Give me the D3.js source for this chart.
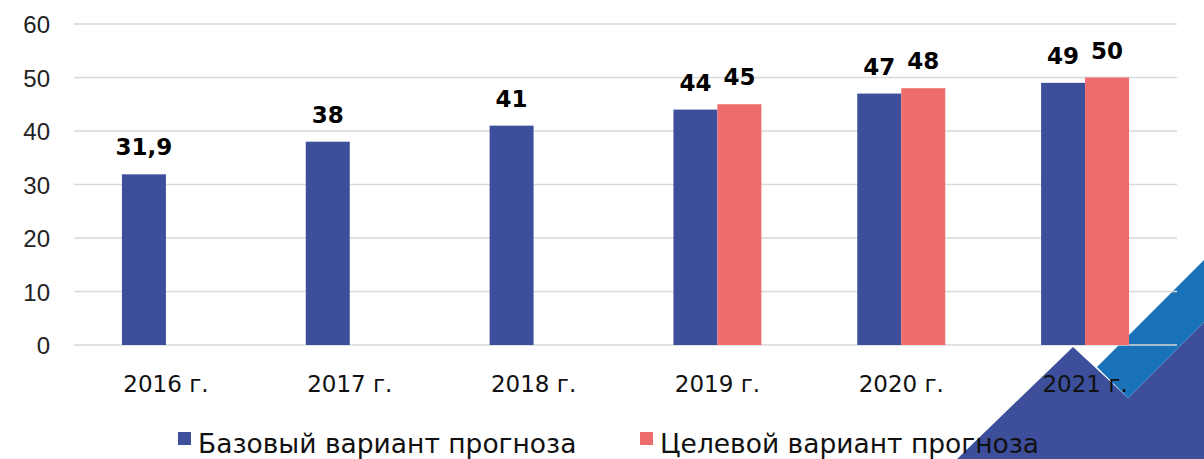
<!DOCTYPE html>
<html><head><meta charset="utf-8">
<script src="https://cdn.jsdelivr.net/npm/d3@7"></script>
<style>body{margin:0;background:#fff;}svg{display:block;}</style>
</head><body>
<svg id="c" width="1204" height="459"></svg>
<script>
const categories = ["2016 г.", "2017 г.", "2018 г.", "2019 г.", "2020 г.", "2021 г."];
const seriesNames = ["Базовый вариант прогноза", "Целевой вариант прогноза"];
const baseValues = [31.9, 38, 41, 44, 47, 49];
const targetValues = [null, null, null, 45, 48, 50];
const baseLabels = ["31,9", "38", "41", "44", "47", "49"];
const targetLabels = [null, null, null, "45", "48", "50"];
const yTicks = [0, 10, 20, 30, 40, 50, 60];
const colors = ["#3D4F9B", "#EE6C6C"];

const svg = d3.select("#c");
const W = 1204, H = 459;
const m = {left: 74, right: 27, top: 24, bottom: 114};
const font = "DejaVu Sans, sans-serif";

// background decoration
svg.append("polygon").attr("points", "957,459 1073,347 1128,398 1204,322 1204,459").attr("fill", "#3D4F9B");
svg.append("polygon").attr("points", "1097,367 1204,260 1204,322 1128,398").attr("fill", "#1A72B8");

const x = d3.scaleBand().domain(categories).range([m.left, W - m.right]).padding(0);
const y = d3.scaleLinear().domain([0, 60]).range([H - m.bottom, m.top]);
const inner = d3.scaleBand().domain([0, 1]).range([0, x.bandwidth()]).paddingOuter(1.09).paddingInner(0);

// gridlines
svg.append("g").selectAll("line").data(yTicks).join("line")
  .attr("x1", m.left).attr("x2", W - m.right)
  .attr("y1", d => y(d)).attr("y2", d => y(d))
  .attr("stroke", "#D9D9D9").attr("stroke-width", 1.5);

// y labels
const yAxis = d3.axisLeft(y).tickValues(yTicks).tickSize(0).tickPadding(0).tickFormat(d3.format("d"));
const ya = svg.append("g").attr("transform", `translate(${m.left - 24},0)`).call(yAxis);
ya.select(".domain").remove();
ya.selectAll("text").attr("font-family", "Liberation Sans, Arial, sans-serif").attr("font-size", 24).attr("fill", "#222").attr("dy", "0.36em");

// x labels
const xAxis = d3.axisBottom(x).tickSize(0).tickPadding(0);
const xa = svg.append("g").attr("transform", `translate(0,${y(0) + 47})`).call(xAxis);
xa.select(".domain").remove();
xa.selectAll("text").attr("font-family", font).attr("font-size", 23).attr("fill", "#111").attr("dy", 0);

const series = [[baseValues, baseLabels], [targetValues, targetLabels]];
series.forEach(([vals, labs], si) => {
  const g = svg.append("g");
  const data = categories.map((c, i) => ({c, v: vals[i], lab: labs[i]})).filter(d => d.v != null);
  g.selectAll("rect").data(data).join("rect")
    .attr("x", d => x(d.c) + inner(si))
    .attr("width", inner.bandwidth())
    .attr("y", d => y(d.v))
    .attr("height", d => y(0) - y(d.v))
    .attr("fill", colors[si]);
  g.selectAll("text").data(data).join("text")
    .attr("x", d => x(d.c) + inner(si) + inner.bandwidth() / 2)
    .attr("y", d => y(d.v) - 19)
    .attr("text-anchor", "middle")
    .attr("font-family", font).attr("font-weight", "bold").attr("font-size", 23)
    .attr("fill", "#000")
    .text(d => d.lab);
});

// legend
const legendX = [178, 640];
seriesNames.forEach((n, i) => {
  svg.append("rect").attr("x", legendX[i]).attr("y", 432).attr("width", 13).attr("height", 13).attr("fill", colors[i]);
  svg.append("text").attr("x", legendX[i] + 20).attr("y", 453)
    .attr("font-family", font).attr("font-size", 26.5).attr("fill", "#111")
    .text(n);
});
</script>
</body></html>
